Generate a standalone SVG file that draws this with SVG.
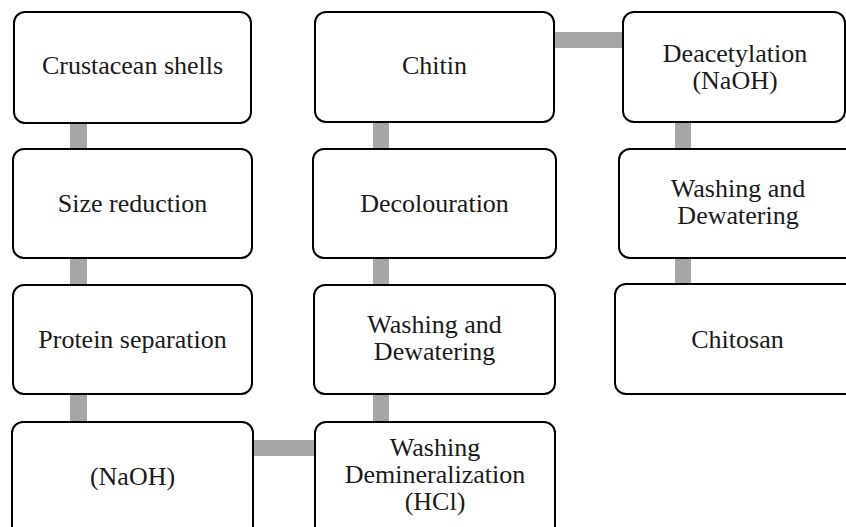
<svg xmlns="http://www.w3.org/2000/svg" width="846" height="527" viewBox="0 0 846 527">
<style>
.box{fill:#fff;stroke:#000;stroke-width:2}
.con{fill:#a6a6a6}
</style>
<rect width="846" height="527" fill="#fff"/>
<g id="connectors">
<rect class="con" x="70" y="122" width="17" height="28"/>
<rect class="con" x="70" y="257" width="17" height="29"/>
<rect class="con" x="70" y="393" width="17" height="30"/>
<rect class="con" x="252" y="440" width="64" height="16"/>
<rect class="con" x="373" y="393" width="16" height="30"/>
<rect class="con" x="373" y="257" width="16" height="29"/>
<rect class="con" x="373" y="121" width="16" height="29"/>
<rect class="con" x="553" y="32" width="71" height="16"/>
<rect class="con" x="675" y="121" width="16" height="29"/>
<rect class="con" x="675" y="257" width="16" height="28"/>
</g>
<g font-family="Liberation Serif" font-size="26" fill="#1a1a1a" text-anchor="middle">
<g id="n1"><rect class="box" x="14" y="12" width="237" height="111" rx="11"/><text x="132.5" y="74">Crustacean shells</text></g>
<g id="n2"><rect class="box" x="13" y="149" width="239" height="109" rx="11"/><text x="132.5" y="212">Size reduction</text></g>
<g id="n3"><rect class="box" x="13" y="285" width="239" height="109" rx="11"/><text x="132.5" y="348">Protein separation</text></g>
<g id="n4"><rect class="box" x="12" y="422" width="241" height="115" rx="11"/><text x="132.5" y="485">(NaOH)</text></g>
<g id="n5"><rect class="box" x="315" y="422" width="240" height="115" rx="11"/><text x="435" y="456">Washing</text><text x="435" y="483">Demineralization</text><text x="435" y="510">(HCl)</text></g>
<g id="n6"><rect class="box" x="314" y="285" width="241" height="109" rx="11"/><text x="434.5" y="333">Washing and</text><text x="434.5" y="360">Dewatering</text></g>
<g id="n7"><rect class="box" x="313" y="149" width="243" height="109" rx="11"/><text x="434.5" y="212">Decolouration</text></g>
<g id="n8"><rect class="box" x="315" y="12" width="239" height="110" rx="11"/><text x="434.5" y="74">Chitin</text></g>
<g id="n9"><rect class="box" x="623" y="12" width="222" height="110" rx="11"/><text x="735" y="62">Deacetylation</text><text x="735" y="89">(NaOH)</text></g>
<g id="n10"><rect class="box" x="619" y="149" width="238" height="109" rx="11"/><text x="738" y="197">Washing and</text><text x="738" y="224">Dewatering</text></g>
<g id="n11"><rect class="box" x="615" y="284" width="245" height="110" rx="11"/><text x="737.5" y="348">Chitosan</text></g>
</g>
</svg>
